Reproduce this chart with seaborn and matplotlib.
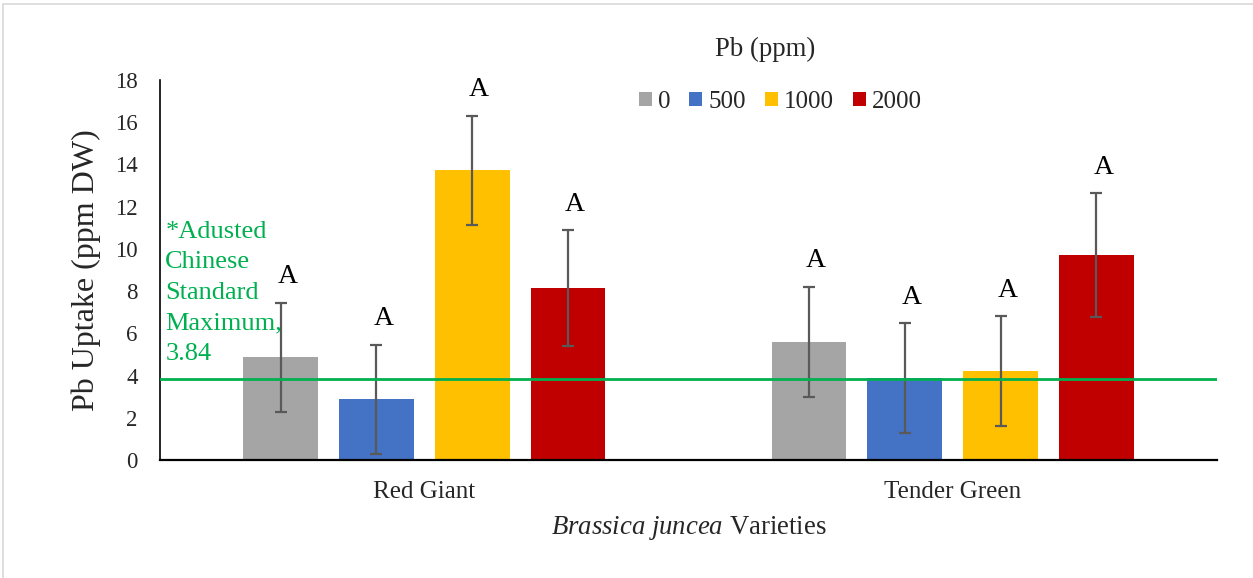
import numpy as np
import pandas as pd
import matplotlib
matplotlib.use("Agg")
import matplotlib.pyplot as plt
from matplotlib.patches import Rectangle
import seaborn as sns

# Pb uptake by Brassica juncea variety and soil Pb level
varieties = ["Red Giant", "Tender Green"]
pb_levels = ["0", "500", "1000", "2000"]
uptake_red_giant = [4.87, 2.87, 13.72, 8.15]
uptake_tender_green = [5.60, 3.87, 4.20, 9.70]
err_red_giant = [2.58, 2.60, 2.58, 2.73]
err_tender_green = [2.60, 2.60, 2.60, 2.93]
letters_red_giant = ["A", "A", "A", "A"]
letters_tender_green = ["A", "A", "A", "A"]
standard_max = 3.84
standard_note = ["*Adusted", "Chinese", "Standard", "Maximum,", "3.84"]
yticks = [0, 2, 4, 6, 8, 10, 12, 14, 16, 18]

colors = ["#A5A5A5", "#4472C4", "#FFC000", "#C00000"]
green = "#00B050"

rows = []
for var, vals, errs, labs in [
    (varieties[0], uptake_red_giant, err_red_giant, letters_red_giant),
    (varieties[1], uptake_tender_green, err_tender_green, letters_tender_green),
]:
    for lvl, v, e, l in zip(pb_levels, vals, errs, labs):
        rows.append({"Variety": var, "Pb": lvl, "Uptake": v, "SE": e, "Letter": l})
df = pd.DataFrame(rows)

sns.set_theme(style="white")
plt.rcParams["font.family"] = ["Liberation Serif", "DejaVu Serif"]
plt.rcParams["mathtext.fontset"] = "custom"
plt.rcParams["mathtext.rm"] = "Liberation Serif"
plt.rcParams["mathtext.it"] = "Liberation Serif:italic"

fig = plt.figure(figsize=(12.53, 5.78), dpi=100)
ax = fig.add_axes([160 / 1253, 118 / 578, 1057 / 1253, 380 / 578])

sns.barplot(data=df, x="Variety", y="Uptake", hue="Pb", order=varieties,
            hue_order=pb_levels, palette=colors, width=0.725, gap=0.22,
            errorbar=None, linewidth=0, saturation=1, ax=ax)

# error bars and significance letters on each bar
for lvl, cont in zip(pb_levels, ax.containers):
    for var, bar in zip(varieties, cont):
        rec = df[(df.Variety == var) & (df.Pb == lvl)].iloc[0]
        xc = bar.get_x() + bar.get_width() / 2
        ax.errorbar(xc, rec.Uptake, yerr=rec.SE, color="#595959", lw=1.6,
                    capsize=4, capthick=1.6, zorder=4)
        ax.annotate(rec.Letter, (xc, rec.Uptake + rec.SE), xytext=(5, 14),
                    textcoords="offset points", ha="center", va="baseline",
                    fontsize=20, color="black")

# reference maximum line with its note, one line of text per row
ax.axhline(standard_max, color=green, lw=2.0, zorder=5)
for i, line in enumerate(standard_note):
    ax.annotate(line, (0.005, 0.63), xycoords="axes fraction",
                xytext=(0, -22 * i), textcoords="offset points",
                color=green, fontsize=19, va="top", ha="left", zorder=6)

ax.set_xlim(-0.5, 1.5)
ax.set_ylim(0, 18)
ax.set_yticks(yticks)
ax.set_yticklabels([str(t) for t in yticks], fontsize=16.5)
ax.tick_params(axis="y", length=0, pad=16)
ax.tick_params(axis="x", length=0, pad=15, labelsize=18)
ax.set_ylabel("Pb Uptake (ppm DW)", fontsize=23, labelpad=10)
ax.set_xlabel(r"$\it{Brassica\ juncea}$ Varieties", fontsize=19.3, labelpad=8)

sns.despine(ax=ax)
ax.spines["left"].set_color("black")
ax.spines["left"].set_linewidth(1.2)
ax.spines["bottom"].set_color("black")
ax.spines["bottom"].set_linewidth(1.6)

handles, labels = ax.get_legend_handles_labels()
ax.get_legend().remove()
fig.legend(handles, labels, loc="center", bbox_to_anchor=(0.623, 0.824),
           ncol=4, frameon=False, fontsize=18, handlelength=0.52,
           handleheight=0.52, handletextpad=0.25, columnspacing=0.75)
fig.text(0.6105, 0.915, "Pb (ppm)", ha="center", va="center", fontsize=19.3)

# light chart frame
fig.patches.append(Rectangle((3 / 1253, -0.1), 1.2, (574 / 578) + 0.1,
                             transform=fig.transFigure, fill=False,
                             edgecolor="#D9D9D9", lw=1.2))

fig.savefig("out.png", dpi=100)
